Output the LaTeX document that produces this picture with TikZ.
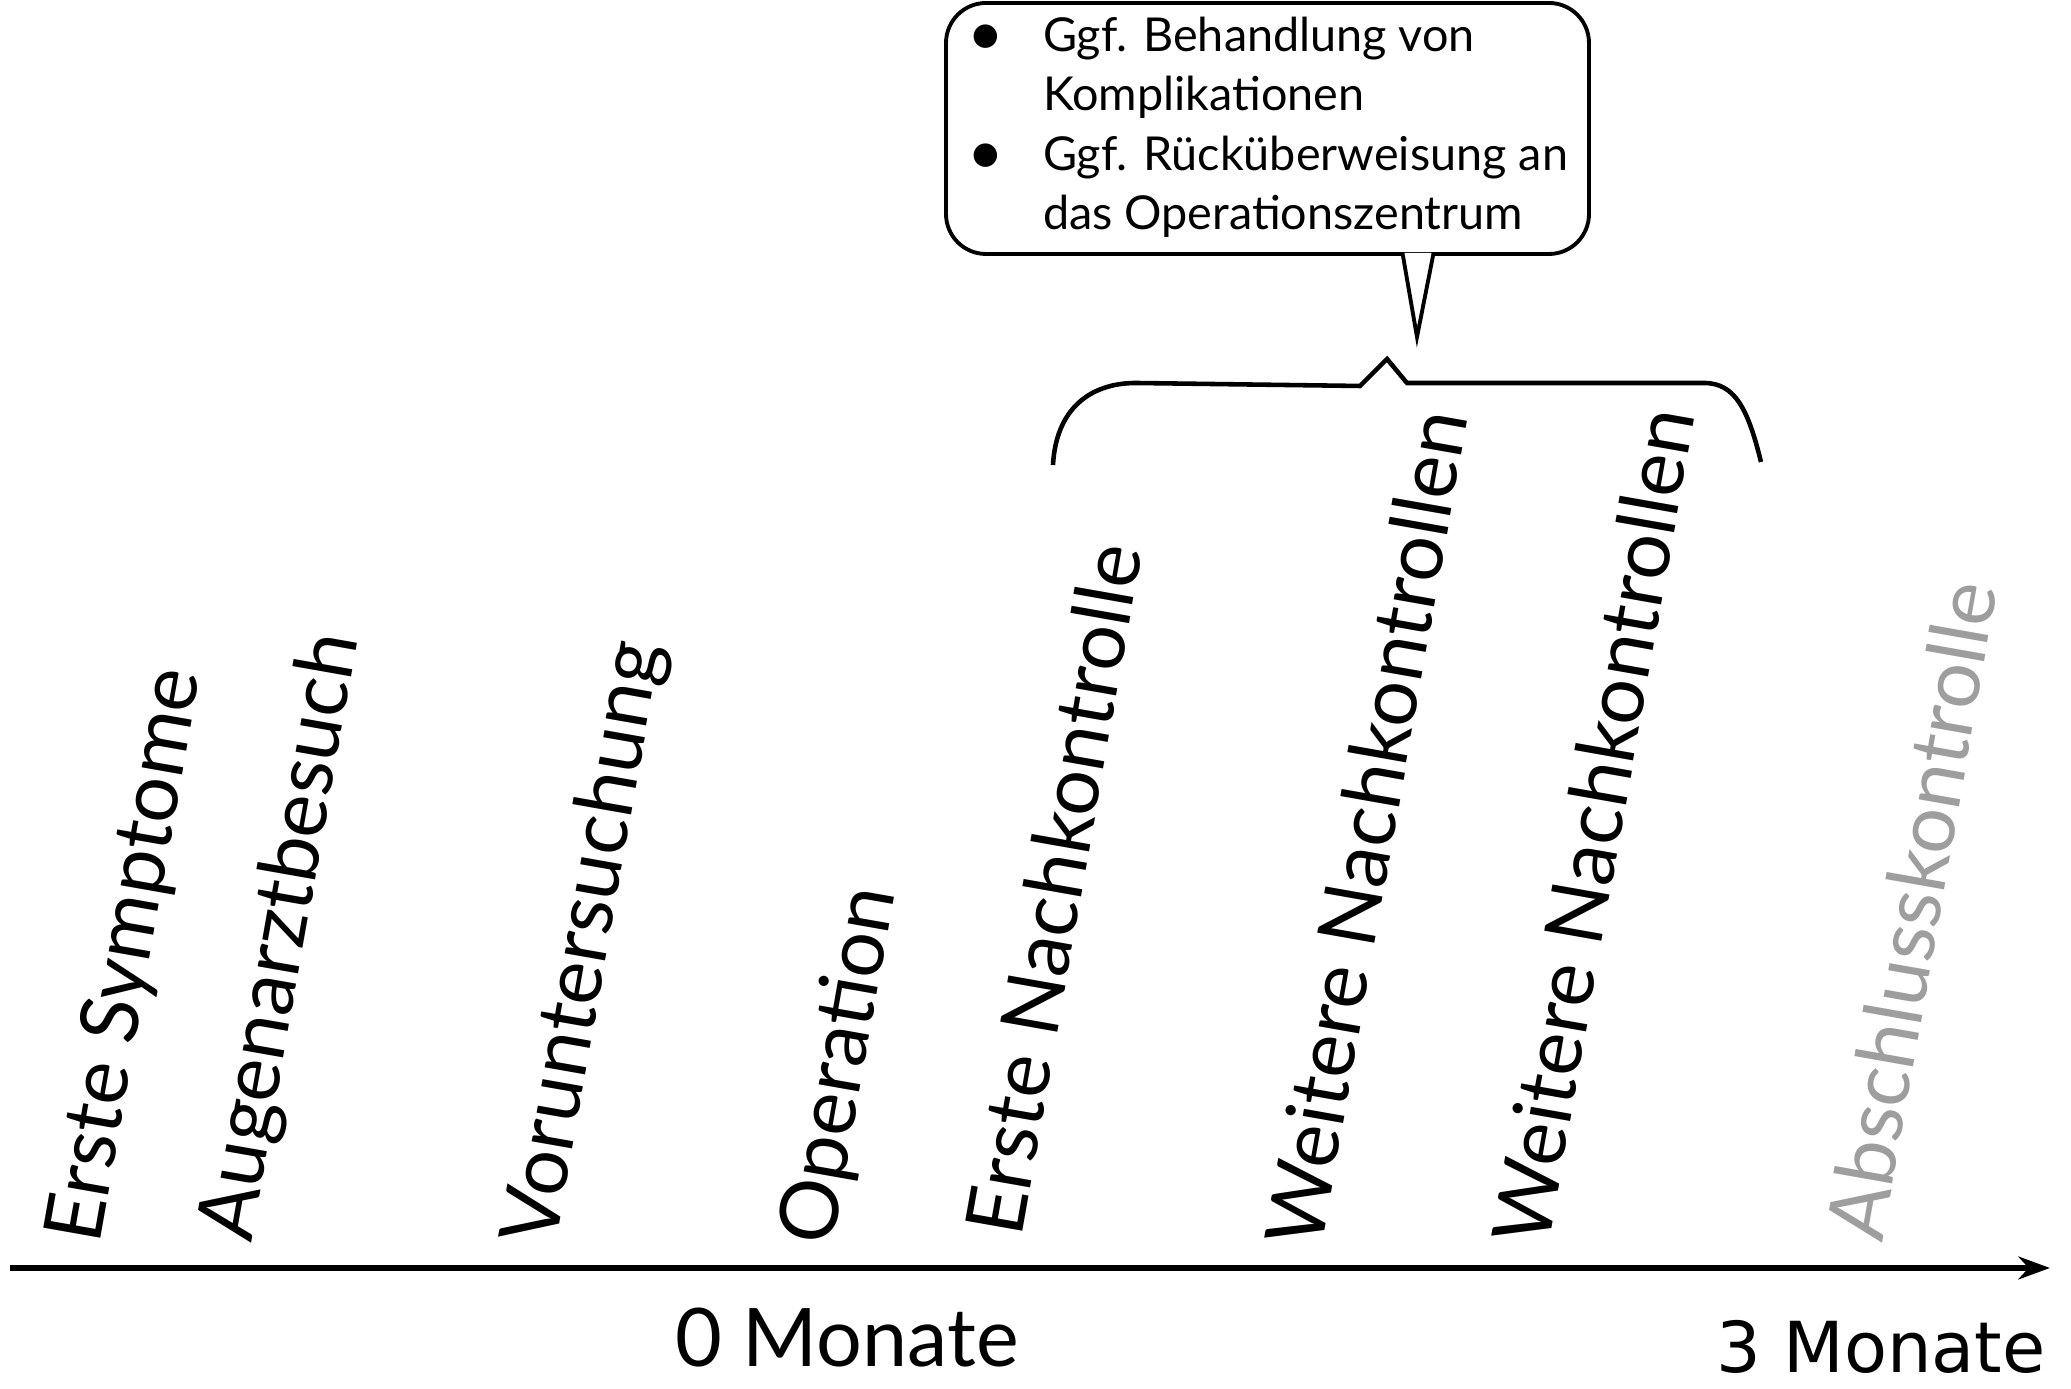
\documentclass[tikz,border=0pt]{standalone}
\usepackage{fontspec}
\setmainfont{Lato}
\newfontfamily\widesans{DejaVu Sans}
\usetikzlibrary{arrows.meta, calc}

\definecolor{faded}{gray}{0.62}
\newcommand{\dotitem}{\raisebox{-0.2ex}{\fontsize{18}{18}\selectfont\textbullet}}

\tikzset{
  event/.style={rotate=80, anchor=base west, inner sep=0pt, font=\fontsize{23}{28}\selectfont},
  pending/.style={event, text=faded},
  month/.style={anchor=base, inner sep=0pt, font=\fontsize{23}{28}\selectfont},
  bubble/.style={draw, line width=1.1pt, rounded corners=0.4cm, minimum width=6.43cm, minimum height=2.51cm, inner sep=0pt, font=\fontsize{13.3}{16.9}\selectfont}
}

\begin{document}
\begin{tikzpicture}
  \useasboundingbox (0,0) rectangle (20.71,13.89);

  % time axis
  \coordinate (t0) at (0.10,1.21);
  \coordinate (t1) at (20.50,1.21);
  \draw[line width=1.6pt, -{Stealth[length=9pt,width=6.5pt]}] (t0) -- (t1);
  \node[month] (zero) at (8.47,0.22) {0 Monate};
  \node[month, font=\widesans\fontsize{20}{24}\selectfont] (three) at (18.81,0.16) {3 Monate};

  % events
  \node[event] (symptome) at (0.99,1.43) {Erste Symptome};
  \node[event] (augenarzt) at (2.51,1.45) {Augenarztbesuch};
  \node[event] (vorunt) at (5.55,1.41) {Voruntersuchung};
  \node[event] (op) at (8.32,1.41) {Operation};
  \node[event] (nachk) at (10.21,1.50) {Erste Nachkontrolle};
  \node[event] (weitere1) at (13.21,1.39) {Weitere Nachkontrollen};
  \node[event] (weitere2) at (15.48,1.41) {Weitere Nachkontrollen};
  \node[pending] (abschluss) at (18.82,1.45) {Abschlusskontrolle};

  % brace over the follow-ups
  \draw[line width=1.3pt, line join=miter] (10.53,9.24) .. controls (10.56,9.80) and (10.90,10.06) .. (11.36,10.06)
    -- (13.60,10.03) -- (13.87,10.30) -- (14.07,10.06) -- (17.04,10.06)
    .. controls (17.35,10.06) and (17.48,9.80) .. (17.61,9.27);

  % speech bubble
  \node[bubble] (note) at (12.675,12.605) {%
    \begin{tabular}{@{}p{0.76cm}@{}l@{}}
      \dotitem & Ggf. Behandlung von\\
               & Komplikationen\\
      \dotitem & Ggf. Rücküberweisung an\\
               & das Operationszentrum
    \end{tabular}};
  \coordinate (tip) at (14.17,10.52);
  \fill[white] ([xshift=1.37cm,yshift=0.03cm]note.south) -- (tip) -- ([xshift=1.64cm,yshift=0.03cm]note.south) -- cycle;
  \draw[line width=1.1pt] ([xshift=1.355cm]note.south) -- (tip) -- ([xshift=1.655cm]note.south);
\end{tikzpicture}
\end{document}
